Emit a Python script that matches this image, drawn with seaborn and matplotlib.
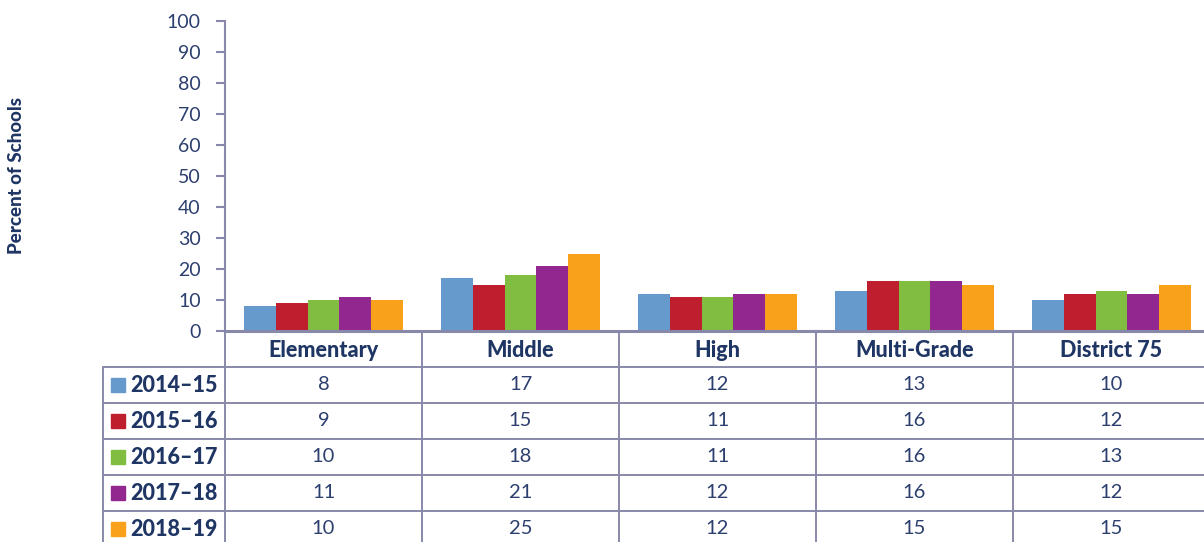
import matplotlib
matplotlib.use("Agg")
import matplotlib.pyplot as plt
import seaborn as sns
import pandas as pd
from matplotlib.patches import Rectangle

categories = ["Elementary", "Middle", "High", "Multi-Grade", "District 75"]
years = ["2014\u201315", "2015\u201316", "2016\u201317", "2017\u201318", "2018\u201319"]
values_2014_15 = [8, 17, 12, 13, 10]
values_2015_16 = [9, 15, 11, 16, 12]
values_2016_17 = [10, 18, 11, 16, 13]
values_2017_18 = [11, 21, 12, 16, 12]
values_2018_19 = [10, 25, 12, 15, 15]
series = [values_2014_15, values_2015_16, values_2016_17, values_2017_18, values_2018_19]
y_ticks = list(range(0, 101, 10))

colors = ["#6699CC", "#BE1E2D", "#80BD41", "#92278F", "#F9A11B"]
navy = "#1F3564"
num_col = "#2C3F6E"
line_col = "#8888AA"

rows = []
for yr, vals in zip(years, series):
    for cat, v in zip(categories, vals):
        rows.append({"category": cat, "year": yr, "value": v})
df = pd.DataFrame(rows)

sns.set_style("white")
plt.rcParams["font.family"] = ["Lato", "DejaVu Sans"]

W, H = 1204, 542
fig = plt.figure(figsize=(W / 100, H / 100), dpi=100)

# chart area (pixel layout converted to figure fractions)
col_w = 197.0
ax_left, ax_top, ax_bottom = 225.0, 21.0, 331.0
ax = fig.add_axes([ax_left / W, 1 - ax_bottom / H, 5 * col_w / W, (ax_bottom - ax_top) / H])
sns.barplot(data=df, x="category", y="value", hue="year", order=categories,
            hue_order=years, palette=colors, width=0.81, gap=0, saturation=1,
            linewidth=0, edgecolor="none", legend=False, ax=ax)
ax.set_xlim(-0.5, 4.5)
ax.set_ylim(0, 100)
ax.set_yticks(y_ticks)
ax.set_yticklabels([str(t) for t in y_ticks], fontsize=14, color=num_col)
ax.set_xticks([])
ax.set_xlabel("")
ax.set_ylabel("")
for s in ["top", "right"]:
    ax.spines[s].set_visible(False)
ax.spines["left"].set_color(line_col)
ax.spines["left"].set_linewidth(1.5)
ax.spines["bottom"].set_color(line_col)
ax.spines["bottom"].set_linewidth(2.2)
ax.tick_params(axis="y", length=6.5, width=1.5, color=line_col, pad=11, direction="out", left=True)

fig.text(17 / W, 1 - 176 / H, "Percent of Schools", rotation=90, ha="center", va="center",
         fontsize=13.5, fontweight=900, color=navy)

# data table beneath the chart
tab_left = 103.0
row_h = 36.0
tab_bottom = ax_bottom + 6 * row_h
leg_w = ax_left - tab_left
tab = fig.add_axes([tab_left / W, 1 - tab_bottom / H, (leg_w + 5 * col_w) / W, 6 * row_h / H])
tab.set_xlim(-0.5 - leg_w / col_w, 4.5)
tab.set_ylim(6, 0)
tab.axis("off")
x0 = -0.5 - leg_w / col_w

lw = 1.4
# vertical rules
tab.plot([-0.5, -0.5], [0, 6], color=line_col, lw=lw, clip_on=False)
for i in range(1, 5):
    tab.plot([i - 0.5, i - 0.5], [0, 6], color=line_col, lw=lw, clip_on=False)
tab.plot([x0, x0], [1, 6], color=line_col, lw=lw, clip_on=False)
# horizontal rules
for r in range(1, 6):
    tab.plot([x0, 4.6], [r, r], color=line_col, lw=lw, clip_on=False)

for i, cat in enumerate(categories):
    tab.text(i, 0.55, cat, ha="center", va="center", fontsize=15.5, fontweight=900, color=navy)

sq = 14.0 / col_w
for r, (yr, vals, c) in enumerate(zip(years, series, colors)):
    yc = r + 1.5
    tab.add_patch(Rectangle((x0 + 8 / col_w, yc - 0.2), sq, 0.39, color=c, clip_on=False))
    tab.text(x0 + 27 / col_w, yc, yr, ha="left", va="center", fontsize=15.5,
             fontweight=900, color=navy)
    for i, v in enumerate(vals):
        tab.text(i, yc, str(v), ha="center", va="center", fontsize=14.5, color=num_col)

fig.savefig("out.png", dpi=100)
